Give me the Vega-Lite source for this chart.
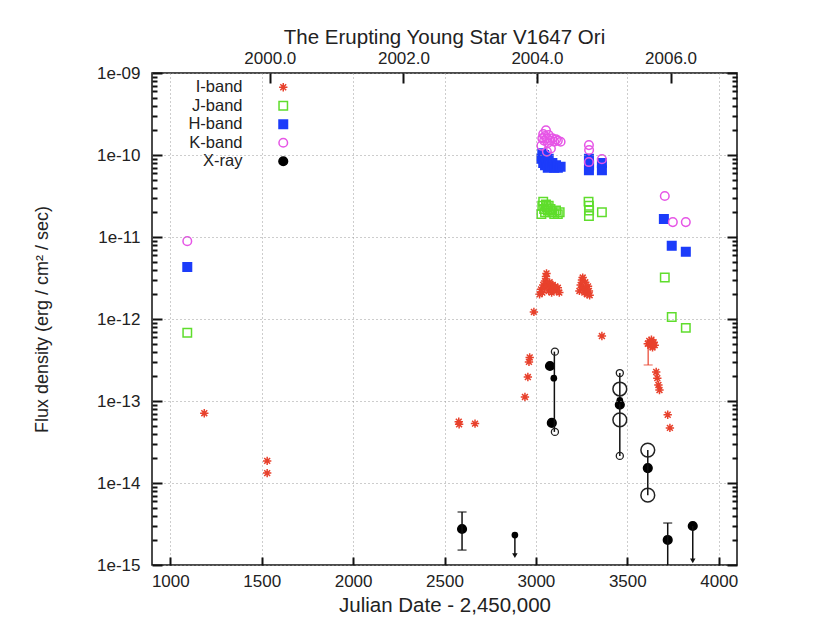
{
  "$schema": "https://vega.github.io/schema/vega-lite/v6.json",
  "width": 585,
  "height": 492,
  "autosize": {"type": "none"},
  "padding": {"left": 152, "top": 73, "right": 93, "bottom": 61},
  "background": "white",
  "title": {"text": "The Erupting Young Star V1647 Ori", "fontSize": 20.5, "font": "Liberation Sans", "fontWeight": "normal", "color": "#222222", "offset": 1, "anchor": "middle"},
  "config": {
    "view": {"stroke": "#111111", "strokeWidth": 1.5},
    "axis": {"labelFont": "Liberation Sans", "labelFontSize": 17, "labelColor": "#222222", "titleFont": "Liberation Sans", "titleFontWeight": "normal", "titleFontSize": 20.5, "titleColor": "#222222", "domain": false, "gridColor": "#9a9a9a", "gridDash": [1, 3], "gridWidth": 1}
  },
  "datasets": {
    "bands": [
      {"band": "I-band", "jd": 1186, "flux": 7.1e-14},
      {"band": "I-band", "jd": 1530, "flux": 1.86e-14},
      {"band": "I-band", "jd": 1530, "flux": 1.32e-14},
      {"band": "I-band", "jd": 2578, "flux": 5.6e-14},
      {"band": "I-band", "jd": 2580, "flux": 5.2e-14},
      {"band": "I-band", "jd": 2667, "flux": 5.3e-14},
      {"band": "I-band", "jd": 2940, "flux": 1.12e-13},
      {"band": "I-band", "jd": 2956, "flux": 1.96e-13},
      {"band": "I-band", "jd": 2962, "flux": 3.0e-13},
      {"band": "I-band", "jd": 2966, "flux": 3.4e-13},
      {"band": "I-band", "jd": 2989, "flux": 1.22e-12},
      {"band": "I-band", "jd": 3020, "flux": 2.0e-12},
      {"band": "I-band", "jd": 3028, "flux": 2.3e-12},
      {"band": "I-band", "jd": 3035, "flux": 2.1e-12},
      {"band": "I-band", "jd": 3040, "flux": 2.6e-12},
      {"band": "I-band", "jd": 3046, "flux": 2.4e-12},
      {"band": "I-band", "jd": 3050, "flux": 2.9e-12},
      {"band": "I-band", "jd": 3055, "flux": 3.3e-12},
      {"band": "I-band", "jd": 3058, "flux": 3.6e-12},
      {"band": "I-band", "jd": 3062, "flux": 2.7e-12},
      {"band": "I-band", "jd": 3066, "flux": 2.5e-12},
      {"band": "I-band", "jd": 3070, "flux": 2.2e-12},
      {"band": "I-band", "jd": 3075, "flux": 2.8e-12},
      {"band": "I-band", "jd": 3080, "flux": 2.4e-12},
      {"band": "I-band", "jd": 3086, "flux": 2.1e-12},
      {"band": "I-band", "jd": 3092, "flux": 2.6e-12},
      {"band": "I-band", "jd": 3098, "flux": 2.3e-12},
      {"band": "I-band", "jd": 3105, "flux": 2.5e-12},
      {"band": "I-band", "jd": 3112, "flux": 2.2e-12},
      {"band": "I-band", "jd": 3120, "flux": 2.4e-12},
      {"band": "I-band", "jd": 3128, "flux": 2.1e-12},
      {"band": "I-band", "jd": 3238, "flux": 2.2e-12},
      {"band": "I-band", "jd": 3245, "flux": 2.6e-12},
      {"band": "I-band", "jd": 3252, "flux": 3.0e-12},
      {"band": "I-band", "jd": 3256, "flux": 3.2e-12},
      {"band": "I-band", "jd": 3260, "flux": 2.4e-12},
      {"band": "I-band", "jd": 3265, "flux": 2.1e-12},
      {"band": "I-band", "jd": 3270, "flux": 2.8e-12},
      {"band": "I-band", "jd": 3275, "flux": 2.3e-12},
      {"band": "I-band", "jd": 3280, "flux": 2.0e-12},
      {"band": "I-band", "jd": 3285, "flux": 2.5e-12},
      {"band": "I-band", "jd": 3290, "flux": 2.2e-12},
      {"band": "I-band", "jd": 3294, "flux": 1.95e-12},
      {"band": "I-band", "jd": 3361, "flux": 6.2e-13},
      {"band": "I-band", "jd": 3612, "flux": 5.0e-13},
      {"band": "I-band", "jd": 3620, "flux": 5.4e-13},
      {"band": "I-band", "jd": 3626, "flux": 4.7e-13},
      {"band": "I-band", "jd": 3632, "flux": 5.6e-13},
      {"band": "I-band", "jd": 3638, "flux": 4.5e-13},
      {"band": "I-band", "jd": 3644, "flux": 5.2e-13},
      {"band": "I-band", "jd": 3650, "flux": 4.8e-13},
      {"band": "I-band", "jd": 3658, "flux": 2.26e-13},
      {"band": "I-band", "jd": 3664, "flux": 1.9e-13},
      {"band": "I-band", "jd": 3670, "flux": 1.57e-13},
      {"band": "I-band", "jd": 3676, "flux": 1.36e-13},
      {"band": "I-band", "jd": 3721, "flux": 6.8e-14},
      {"band": "I-band", "jd": 3733, "flux": 4.7e-14},
      {"band": "J-band", "jd": 1093, "flux": 6.8e-13},
      {"band": "J-band", "jd": 3030, "flux": 1.9e-11},
      {"band": "J-band", "jd": 3035, "flux": 2.4e-11},
      {"band": "J-band", "jd": 3040, "flux": 2.7e-11},
      {"band": "J-band", "jd": 3045, "flux": 2.2e-11},
      {"band": "J-band", "jd": 3050, "flux": 2.0e-11},
      {"band": "J-band", "jd": 3055, "flux": 2.5e-11},
      {"band": "J-band", "jd": 3060, "flux": 2.3e-11},
      {"band": "J-band", "jd": 3065, "flux": 2.1e-11},
      {"band": "J-band", "jd": 3070, "flux": 2.4e-11},
      {"band": "J-band", "jd": 3080, "flux": 2.2e-11},
      {"band": "J-band", "jd": 3090, "flux": 2.0e-11},
      {"band": "J-band", "jd": 3100, "flux": 1.9e-11},
      {"band": "J-band", "jd": 3110, "flux": 2.1e-11},
      {"band": "J-band", "jd": 3120, "flux": 1.9e-11},
      {"band": "J-band", "jd": 3130, "flux": 2.0e-11},
      {"band": "J-band", "jd": 3288, "flux": 2.7e-11},
      {"band": "J-band", "jd": 3290, "flux": 2.4e-11},
      {"band": "J-band", "jd": 3291, "flux": 2.1e-11},
      {"band": "J-band", "jd": 3290, "flux": 1.8e-11},
      {"band": "J-band", "jd": 3361, "flux": 2.0e-11},
      {"band": "J-band", "jd": 3705, "flux": 3.2e-12},
      {"band": "J-band", "jd": 3743, "flux": 1.06e-12},
      {"band": "J-band", "jd": 3820, "flux": 7.8e-13},
      {"band": "H-band", "jd": 1093, "flux": 4.3e-12},
      {"band": "H-band", "jd": 3030, "flux": 9.0e-11},
      {"band": "H-band", "jd": 3035, "flux": 1.05e-10},
      {"band": "H-band", "jd": 3040, "flux": 8.0e-11},
      {"band": "H-band", "jd": 3045, "flux": 1.0e-10},
      {"band": "H-band", "jd": 3050, "flux": 7.5e-11},
      {"band": "H-band", "jd": 3055, "flux": 9.5e-11},
      {"band": "H-band", "jd": 3060, "flux": 8.5e-11},
      {"band": "H-band", "jd": 3065, "flux": 7.0e-11},
      {"band": "H-band", "jd": 3070, "flux": 9.0e-11},
      {"band": "H-band", "jd": 3075, "flux": 8.0e-11},
      {"band": "H-band", "jd": 3080, "flux": 7.5e-11},
      {"band": "H-band", "jd": 3090, "flux": 8.0e-11},
      {"band": "H-band", "jd": 3100, "flux": 7.0e-11},
      {"band": "H-band", "jd": 3110, "flux": 7.5e-11},
      {"band": "H-band", "jd": 3120, "flux": 7.0e-11},
      {"band": "H-band", "jd": 3135, "flux": 7.2e-11},
      {"band": "H-band", "jd": 3290, "flux": 9.0e-11},
      {"band": "H-band", "jd": 3291, "flux": 7.5e-11},
      {"band": "H-band", "jd": 3290, "flux": 6.5e-11},
      {"band": "H-band", "jd": 3361, "flux": 8.0e-11},
      {"band": "H-band", "jd": 3361, "flux": 6.5e-11},
      {"band": "H-band", "jd": 3700, "flux": 1.66e-11},
      {"band": "H-band", "jd": 3743, "flux": 7.8e-12},
      {"band": "H-band", "jd": 3820, "flux": 6.6e-12},
      {"band": "K-band", "jd": 1093, "flux": 8.9e-12},
      {"band": "K-band", "jd": 3030, "flux": 1.3e-10},
      {"band": "K-band", "jd": 3035, "flux": 1.6e-10},
      {"band": "K-band", "jd": 3040, "flux": 1.8e-10},
      {"band": "K-band", "jd": 3045, "flux": 1.5e-10},
      {"band": "K-band", "jd": 3050, "flux": 1.7e-10},
      {"band": "K-band", "jd": 3055, "flux": 2.0e-10},
      {"band": "K-band", "jd": 3060, "flux": 1.6e-10},
      {"band": "K-band", "jd": 3065, "flux": 1.4e-10},
      {"band": "K-band", "jd": 3070, "flux": 1.75e-10},
      {"band": "K-band", "jd": 3080, "flux": 1.5e-10},
      {"band": "K-band", "jd": 3090, "flux": 1.6e-10},
      {"band": "K-band", "jd": 3100, "flux": 1.45e-10},
      {"band": "K-band", "jd": 3110, "flux": 1.55e-10},
      {"band": "K-band", "jd": 3120, "flux": 1.5e-10},
      {"band": "K-band", "jd": 3135, "flux": 1.45e-10},
      {"band": "K-band", "jd": 3060, "flux": 1.1e-10},
      {"band": "K-band", "jd": 3082, "flux": 1.2e-10},
      {"band": "K-band", "jd": 3290, "flux": 1.32e-10},
      {"band": "K-band", "jd": 3291, "flux": 1.15e-10},
      {"band": "K-band", "jd": 3290, "flux": 8.2e-11},
      {"band": "K-band", "jd": 3361, "flux": 8.9e-11},
      {"band": "K-band", "jd": 3705, "flux": 3.16e-11},
      {"band": "K-band", "jd": 3749, "flux": 1.52e-11},
      {"band": "K-band", "jd": 3820, "flux": 1.52e-11},
      {"band": "X-ray", "jd": 2596, "flux": 2.75e-15},
      {"band": "X-ray", "jd": 3077, "flux": 2.67e-13},
      {"band": "X-ray", "jd": 3087, "flux": 5.4e-14},
      {"band": "X-ray", "jd": 3459, "flux": 9.0e-14},
      {"band": "X-ray", "jd": 3612, "flux": 1.52e-14},
      {"band": "X-ray", "jd": 3721, "flux": 2.02e-15},
      {"band": "X-ray", "jd": 3858, "flux": 2.99e-15}
    ],
    "xraySmall": [
      {"jd": 2885, "flux": 2.32e-15},
      {"jd": 3098, "flux": 1.9e-13},
      {"jd": 3459, "flux": 1.02e-13}
    ],
    "openBig": [
      {"jd": 3459, "flux": 1.4e-13},
      {"jd": 3459, "flux": 5.9e-14},
      {"jd": 3612, "flux": 2.52e-14},
      {"jd": 3612, "flux": 7.1e-15}
    ],
    "openSmall": [
      {"jd": 3104, "flux": 4.0e-13},
      {"jd": 3104, "flux": 4.2e-14},
      {"jd": 3459, "flux": 2.19e-13},
      {"jd": 3459, "flux": 2.14e-14}
    ],
    "xLines": [
      {"jd": 3101, "flux": 4.0e-13, "flux2": 4.2e-14},
      {"jd": 3459, "flux": 2.19e-13, "flux2": 2.14e-14},
      {"jd": 3612, "flux": 2.52e-14, "flux2": 7.1e-15},
      {"jd": 2596, "flux": 4.43e-15, "flux2": 1.52e-15},
      {"jd": 3721, "flux": 3.25e-15, "flux2": 5e-16},
      {"jd": 2885, "flux": 2.32e-15, "flux2": 1.3e-15},
      {"jd": 3858, "flux": 2.99e-15, "flux2": 1.12e-15}
    ],
    "xCaps": [
      {"jd": 2596, "flux": 4.43e-15},
      {"jd": 2596, "flux": 1.52e-15},
      {"jd": 3721, "flux": 3.25e-15}
    ],
    "arrows": [
      {"jd": 2885, "flux": 1.3e-15},
      {"jd": 3858, "flux": 1.12e-15}
    ],
    "iErr": [
      {"jd": 3614, "flux": 5.6e-13, "flux2": 2.75e-13}
    ]
  },
  "resolve": {"axis": {"x": "independent", "y": "independent"}},
  "layer": [
    {
      "data": {"name": "bands"},
      "mark": {"type": "point", "strokeWidth": 1.5, "opacity": 1},
      "encoding": {
        "x": {"field": "jd", "type": "quantitative", "scale": {"domain": [900, 4100], "nice": false, "zero": false},
          "axis": {"orient": "bottom", "values": [1000, 1500, 2000, 2500, 3000, 3500, 4000], "format": "d", "title": "Julian Date - 2,450,000", "zindex": 1, "tickSize": -8, "tickWidth": 2, "tickColor": "#111111", "labelPadding": 16, "titlePadding": 6, "grid": true}},
        "y": {"field": "flux", "type": "quantitative", "scale": {"type": "log", "domain": [1e-15, 1e-9], "nice": false},
          "axis": {"orient": "left",
            "values": [1e-15,2e-15,3e-15,4e-15,5e-15,6e-15,7e-15,8e-15,9e-15,1e-14,2e-14,3e-14,4e-14,5e-14,6e-14,7e-14,8e-14,9e-14,1e-13,2e-13,3e-13,4e-13,5e-13,6e-13,7e-13,8e-13,9e-13,1e-12,2e-12,3e-12,4e-12,5e-12,6e-12,7e-12,8e-12,9e-12,1e-11,2e-11,3e-11,4e-11,5e-11,6e-11,7e-11,8e-11,9e-11,1e-10,2e-10,3e-10,4e-10,5e-10,6e-10,7e-10,8e-10,9e-10,1e-9],
            "labelExpr": "abs(log(datum.value)/LN10 - round(log(datum.value)/LN10)) < 0.001 ? '1e-' + (round(-log(datum.value)/LN10) < 10 ? '0' : '') + round(-log(datum.value)/LN10) : ''",
            "zindex": 1,
            "tickSize": {"condition": {"test": "abs(log(datum.value)/LN10 - round(log(datum.value)/LN10)) < 0.001", "value": -10}, "value": -5},
            "tickWidth": 2,
            "tickColor": "#111111",
            "gridOpacity": {"condition": {"test": "abs(log(datum.value)/LN10 - round(log(datum.value)/LN10)) < 0.001", "value": 1}, "value": 0},
            "grid": true,
            "labelPadding": 22,
            "labelOverlap": false,
            "title": "Flux density (erg / cm² / sec)",
            "titleFontSize": 18,
            "titlePadding": 45}},
        "shape": {"field": "band", "type": "nominal",
          "scale": {"domain": ["I-band", "J-band", "H-band", "K-band", "X-ray"], "range": ["M-1,0L1,0M0,-1L0,1M-0.7,-0.7L0.7,0.7M-0.7,0.7L0.7,-0.7", "square", "square", "circle", "circle"]},
          "legend": {"title": null, "orient": "none", "legendX": 119, "legendY": 2, "labelAlign": "right", "labelOffset": -49, "fillColor": "white", "padding": 4, "labelFont": "Liberation Sans", "labelFontSize": 16.5, "labelColor": "#222222", "rowPadding": 1.5, "symbolStrokeWidth": 1.5}},
        "stroke": {"field": "band", "type": "nominal",
          "scale": {"domain": ["I-band", "J-band", "H-band", "K-band", "X-ray"], "range": ["#e8412c", "#5fdd2c", "#1c3cfa", "#e655e6", "#000000"]}},
        "fill": {"field": "band", "type": "nominal",
          "scale": {"domain": ["I-band", "J-band", "H-band", "K-band", "X-ray"], "range": ["transparent", "transparent", "#1c3cfa", "transparent", "#000000"]}},
        "size": {"field": "band", "type": "nominal",
          "scale": {"domain": ["I-band", "J-band", "H-band", "K-band", "X-ray"], "range": [70, 75, 70, 90, 200]}}
      }
    },
    {
      "data": {"name": "iErr"},
      "mark": {"type": "rule", "color": "#e8412c", "strokeWidth": 1.2},
      "encoding": {
        "x": {"field": "jd", "type": "quantitative", "scale": {"domain": [900, 4100], "nice": false, "zero": false},
          "axis": {"orient": "top", "values": [1544.5, 2275.5, 3005.5, 3736.5], "labelExpr": "format(2000 + (datum.value - 1544.5)/365.25, '.1f')", "zindex": 1, "tickSize": -10, "tickWidth": 2, "tickColor": "#111111", "labelPadding": 16, "grid": false, "title": null}},
        "y": {"field": "flux", "type": "quantitative", "scale": {"type": "log", "domain": [1e-15, 1e-9], "nice": false},
          "axis": {"orient": "right",
            "values": [1e-15,2e-15,3e-15,4e-15,5e-15,6e-15,7e-15,8e-15,9e-15,1e-14,2e-14,3e-14,4e-14,5e-14,6e-14,7e-14,8e-14,9e-14,1e-13,2e-13,3e-13,4e-13,5e-13,6e-13,7e-13,8e-13,9e-13,1e-12,2e-12,3e-12,4e-12,5e-12,6e-12,7e-12,8e-12,9e-12,1e-11,2e-11,3e-11,4e-11,5e-11,6e-11,7e-11,8e-11,9e-11,1e-10,2e-10,3e-10,4e-10,5e-10,6e-10,7e-10,8e-10,9e-10,1e-9],
            "labels": false,
            "zindex": 1,
            "tickSize": {"condition": {"test": "abs(log(datum.value)/LN10 - round(log(datum.value)/LN10)) < 0.001", "value": -10}, "value": -5},
            "tickWidth": 2,
            "tickColor": "#111111",
            "grid": false, "title": null}},
        "y2": {"field": "flux2"}
      }
    },
    {
      "data": {"name": "iErr"},
      "mark": {"type": "tick", "color": "#e8412c", "orient": "horizontal", "thickness": 1.2, "size": 9},
      "encoding": {
        "x": {"field": "jd", "type": "quantitative", "scale": {"domain": [900, 4100], "nice": false, "zero": false}, "axis": null},
        "y": {"field": "flux2", "type": "quantitative", "scale": {"type": "log", "domain": [1e-15, 1e-9], "nice": false}, "axis": null}
      }
    },
    {
      "data": {"name": "xLines"},
      "mark": {"type": "rule", "color": "#111111", "strokeWidth": 1.5, "clip": true},
      "encoding": {
        "x": {"field": "jd", "type": "quantitative", "scale": {"domain": [900, 4100], "nice": false, "zero": false}, "axis": null},
        "y": {"field": "flux", "type": "quantitative", "scale": {"type": "log", "domain": [1e-15, 1e-9], "nice": false}, "axis": null},
        "y2": {"field": "flux2"}
      }
    },
    {
      "data": {"name": "xCaps"},
      "mark": {"type": "tick", "color": "#111111", "orient": "horizontal", "thickness": 1.5, "size": 9},
      "encoding": {
        "x": {"field": "jd", "type": "quantitative", "scale": {"domain": [900, 4100], "nice": false, "zero": false}, "axis": null},
        "y": {"field": "flux", "type": "quantitative", "scale": {"type": "log", "domain": [1e-15, 1e-9], "nice": false}, "axis": null}
      }
    },
    {
      "data": {"name": "arrows"},
      "mark": {"type": "point", "shape": "triangle-down", "filled": true, "color": "#111111", "size": 30, "opacity": 1},
      "encoding": {
        "x": {"field": "jd", "type": "quantitative", "scale": {"domain": [900, 4100], "nice": false, "zero": false}, "axis": null},
        "y": {"field": "flux", "type": "quantitative", "scale": {"type": "log", "domain": [1e-15, 1e-9], "nice": false}, "axis": null}
      }
    },
    {
      "data": {"name": "openBig"},
      "mark": {"type": "point", "shape": "circle", "filled": false, "color": "#222222", "strokeWidth": 1.5, "size": 190, "opacity": 1},
      "encoding": {
        "x": {"field": "jd", "type": "quantitative", "scale": {"domain": [900, 4100], "nice": false, "zero": false}, "axis": null},
        "y": {"field": "flux", "type": "quantitative", "scale": {"type": "log", "domain": [1e-15, 1e-9], "nice": false}, "axis": null}
      }
    },
    {
      "data": {"name": "openSmall"},
      "mark": {"type": "point", "shape": "circle", "filled": false, "color": "#222222", "strokeWidth": 1.3, "size": 50, "opacity": 1},
      "encoding": {
        "x": {"field": "jd", "type": "quantitative", "scale": {"domain": [900, 4100], "nice": false, "zero": false}, "axis": null},
        "y": {"field": "flux", "type": "quantitative", "scale": {"type": "log", "domain": [1e-15, 1e-9], "nice": false}, "axis": null}
      }
    },
    {
      "data": {"name": "xraySmall"},
      "mark": {"type": "point", "shape": "circle", "filled": true, "color": "#000000", "size": 45, "opacity": 1},
      "encoding": {
        "x": {"field": "jd", "type": "quantitative", "scale": {"domain": [900, 4100], "nice": false, "zero": false}, "axis": null},
        "y": {"field": "flux", "type": "quantitative", "scale": {"type": "log", "domain": [1e-15, 1e-9], "nice": false}, "axis": null}
      }
    }
  ]
}
